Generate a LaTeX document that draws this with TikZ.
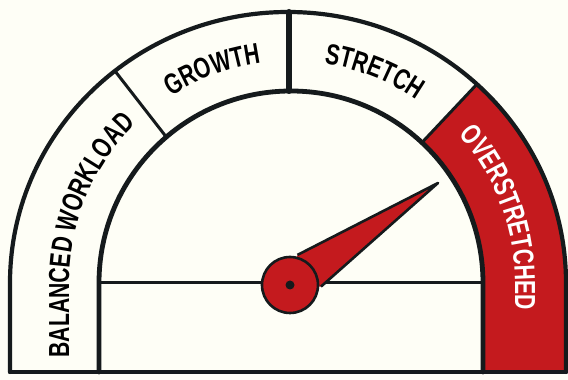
\documentclass[tikz,border=0pt]{standalone}
\usepackage{fontspec}
\newfontfamily\condfont[FakeStretch=0.73]{Liberation Sans}
\newcommand\lbl{\condfont\bfseries\fontsize{29}{29}\selectfont}
\usetikzlibrary{decorations.text}
\definecolor{bgc}{HTML}{FEFEF6}
\definecolor{gred}{HTML}{C41A1E}
\definecolor{ink}{HTML}{151A1C}
\tikzset{
  outline/.style={draw=ink, line width=4.2pt, line join=round, line cap=round},
  divider/.style={draw=ink, line width=3pt, line cap=round},
  thickdiv/.style={draw=ink, line width=6pt, line cap=round},
  needle/.style={fill=gred, draw=ink, line width=2.6pt, line join=round},
  lbltext/.style={decorate, decoration={text along path, text align=center, text={|\lbl|#1}}},
  lbltextw/.style={decorate, decoration={text along path, text align=center, text color=white, text={|\lbl|#1}}}
}
\begin{document}
\begin{tikzpicture}[x=1pt,y=1pt]
\fill[bgc] (0,0) rectangle (568,380);
\useasboundingbox (0,0) rectangle (568,380);
% key points
\coordinate (C) at (291,97);   % centre of the inner arc
\coordinate (E) at (288,97);   % centre of the outer arc
\coordinate (H) at (290,95);   % hub
\coordinate (T) at (438,197);  % needle tip
\coordinate (BL) at (10,8);
\coordinate (BR) at (566,8);
\coordinate (IL) at (99,8);
\coordinate (IR) at (483,8);
\coordinate (O1) at (114.9,309.1);
\coordinate (O2) at (289,368);
\coordinate (O3) at (476.9,295.8);
\coordinate (I1) at ([shift={(130.5:192)}]C);
\coordinate (I2) at (289,289);
\coordinate (I3) at ([shift={(47:192)}]C);
% red segment
\fill[gred] (IR) -- (483,97) arc[start angle=0, end angle=47, radius=192]
   -- (O3) arc[start angle=47.2, end angle=0, x radius=278, y radius=271] -- (568,97) -- (568,8) -- cycle;
% outlines
\draw[outline] (BL) -- (10,97) arc[start angle=180, end angle=0, x radius=278, y radius=271] -- (BR);
\draw[outline, line width=4.8pt] (IL) -- (99,97) arc[start angle=180, end angle=0, radius=192] -- (IR);
\draw[outline] (BL) -- (BR);
% dividers
\draw[divider] (O1) -- (I1);
\draw[thickdiv] (O2) -- (I2);
\draw[divider] (O3) -- (I3);
% horizontal line
\draw[divider] (99,97) -- (483,97);
% labels
\path[lbltext={BALANCED WORKLOAD}] (69,8) -- (69,97) arc[start angle=180, end angle=130.5, radius=222];
\path[lbltext={GROWTH}] ([shift={(130.5:222)}]C) arc[start angle=130.5, end angle=90, radius=222];
\path[lbltext={STRETCH}] ([shift={(90:222)}]C) arc[start angle=90, end angle=47, radius=222];
\path[lbltextw={OVERSTRETCHED}] ([shift={(44:224)}]C) arc[start angle=44, end angle=0, radius=224] -- (515,60);
% needle
\fill[gred] (T) -- ([shift={(76:31)}]H) -- (H) -- ([shift={(-3:31)}]H) -- cycle;
\draw[needle, fill=none] ([shift={(76:31)}]H) -- (T) -- ([shift={(-3:31)}]H);
\draw[needle] (H) circle[radius=28];
\fill[ink] (H) circle[radius=4.5];
\end{tikzpicture}
\end{document}
